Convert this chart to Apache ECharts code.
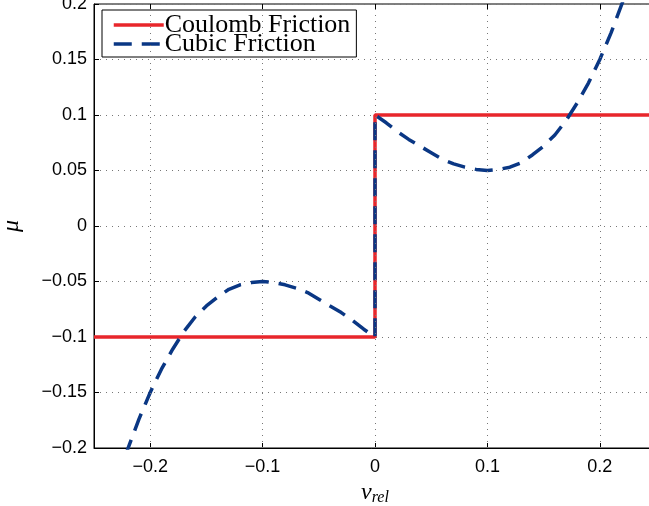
<!DOCTYPE html>
<html>
<head>
<meta charset="utf-8">
<script src="https://cdn.jsdelivr.net/npm/echarts@6/dist/echarts.min.js"></script>
<style>
  html, body { margin: 0; padding: 0; background: #fff; }
  #chart { width: 649px; height: 506px; }
</style>
</head>
<body>
<div id="chart"></div>
<script>
// data
const coulombV = [-0.25, 0, 0, 0.25]
const coulombMu = [-0.1, -0.1, 0.1, 0.1]

const cubicV = [
  -0.23, -0.22, -0.21, -0.2, -0.19, -0.18, -0.17, -0.16, -0.15, -0.14, -0.13, -0.12,
  -0.11, -0.1, -0.09, -0.08, -0.07, -0.06, -0.05, -0.04, -0.03, -0.02, -0.01, 0,
  0,
  0.01, 0.02, 0.03, 0.04, 0.05, 0.06, 0.07, 0.08, 0.09, 0.1, 0.11, 0.12,
  0.13, 0.14, 0.15, 0.16, 0.17, 0.18, 0.19, 0.2, 0.21, 0.22, 0.23,
]
const cubicMu = [
  -0.232, -0.201, -0.174, -0.15, -0.129, -0.111, -0.095, -0.082, -0.072, -0.064, -0.057, -0.053,
  -0.051, -0.05, -0.051, -0.053, -0.056, -0.06, -0.066, -0.072, -0.078, -0.085, -0.093, -0.1,
  0.1,
  0.093, 0.085, 0.078, 0.072, 0.066, 0.06, 0.056, 0.053, 0.051, 0.05, 0.051, 0.053,
  0.057, 0.064, 0.072, 0.082, 0.095, 0.111, 0.129, 0.15, 0.174, 0.201, 0.232,
]

const seriesNames = ['Coulomb Friction', 'Cubic Friction']
const xTicks = [-0.2, -0.1, 0, 0.1, 0.2]

const tickFont = 'Liberation Sans, Arial, sans-serif'
const serifFont = 'Liberation Serif, Times New Roman, serif'

function fmt(v) {
  return parseFloat(v.toFixed(2)).toString().replace('-', '\u2212')
}

const chart = echarts.init(document.getElementById('chart'))

const gridDots = { color: '#777', type: [1, 5], width: 1 }

const option = {
  animation: false,
  backgroundColor: '#fff',
  grid: {
    left: 94,
    top: 4,
    width: 562,
    height: 444,
    outerBoundsMode: 'none',
    containLabel: false,
    show: true,
    borderColor: '#000',
    borderWidth: 1,
    backgroundColor: '#fff',
  },
  legend: {
    orient: 'vertical',
    left: 102,
    top: 10,
    data: seriesNames,
    itemWidth: 50,
    itemHeight: 21,
    itemGap: -7,
    padding: [2, 6, 0, 10],
    backgroundColor: '#fff',
    borderColor: '#000',
    borderWidth: 1,
    itemStyle: { opacity: 0 },
    lineStyle: { width: 3.5 },
    textStyle: {
      fontFamily: serifFont,
      fontSize: 26,
      color: '#000',
      padding: [0, 0, 0, -4],
    },
  },
  xAxis: [
    {
      type: 'value',
      min: -0.25,
      max: 0.25,
      interval: 0.05,
      position: 'bottom',
      axisLine: { show: true, onZero: false, lineStyle: { color: '#000', width: 1 } },
      axisTick: {
        show: true,
        inside: true,
        length: 5,
        customValues: xTicks,
        lineStyle: { color: '#000' },
      },
      axisLabel: {
        margin: 10,
        fontFamily: tickFont,
        fontSize: 18,
        color: '#000',
        customValues: xTicks,
        formatter: fmt,
      },
      splitLine: { show: false },
      name: '{v|v}{s|rel}',
      nameLocation: 'middle',
      nameGap: 30,
      nameTextStyle: {
        rich: {
          v: { fontFamily: serifFont, fontStyle: 'italic', fontSize: 24, color: '#000' },
          s: { fontFamily: serifFont, fontStyle: 'italic', fontSize: 16, color: '#000', padding: [10, 0, 0, 0] },
        },
      },
    },
    {
      type: 'value',
      min: -0.25,
      max: 0.25,
      interval: 0.05,
      position: 'top',
      axisLine: { show: false, onZero: false },
      axisTick: { show: true, inside: true, length: 5, customValues: xTicks, lineStyle: { color: '#000' } },
      axisLabel: { show: false },
      splitLine: { show: false },
    },
  ],
  yAxis: {
    type: 'value',
    min: -0.2,
    max: 0.2,
    interval: 0.05,
    axisLine: { show: true, onZero: false, lineStyle: { color: '#000', width: 1 } },
    axisTick: { show: true, inside: true, length: 5, lineStyle: { color: '#000' } },
    axisLabel: {
      margin: 7,
      fontFamily: tickFont,
      fontSize: 18,
      color: '#000',
      formatter: fmt,
    },
    splitLine: { show: true, lineStyle: gridDots },
    name: '\u03bc',
    nameLocation: 'middle',
    nameGap: 70,
    nameRotate: 90,
    nameTextStyle: { fontFamily: serifFont, fontStyle: 'italic', fontSize: 24, color: '#000' },
  },
  series: [
    {
      // vertical grid lines at the labelled x ticks
      type: 'line',
      silent: true,
      data: [],
      markLine: {
        silent: true,
        symbol: 'none',
        label: { show: false },
        lineStyle: gridDots,
        data: xTicks.map((x) => ({ xAxis: x })),
      },
    },
    {
      name: seriesNames[0],
      type: 'line',
      data: coulombV.map((v, i) => [v, coulombMu[i]]),
      symbol: 'none',
      lineStyle: { color: '#e8262b', width: 3.5 },
      itemStyle: { color: '#e8262b' },
    },
    {
      name: seriesNames[1],
      type: 'line',
      data: cubicV.map((v, i) => [v, cubicMu[i]]),
      symbol: 'none',
      clip: true,
      lineStyle: { color: '#0a3784', width: 3.5, type: [18, 10] },
      itemStyle: { color: '#0a3784' },
    },
  ],
}

chart.setOption(option)
</script>
</body>
</html>
